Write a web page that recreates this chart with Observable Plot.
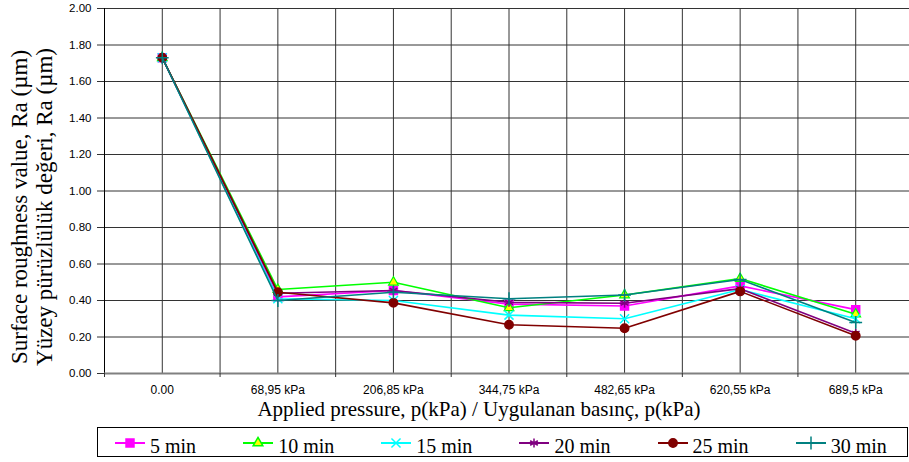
<!DOCTYPE html>
<html><head><meta charset="utf-8">
<script src="https://cdn.jsdelivr.net/npm/d3@7"></script>
<script src="https://cdn.jsdelivr.net/npm/@observablehq/plot@0.6"></script>
<style>
html,body{margin:0;padding:0;background:#fff;overflow:hidden;width:909px;height:462px}
#chart{position:absolute;left:0;top:0;width:909px;height:424px;overflow:hidden}
#legend{position:absolute;left:97px;top:427px;width:811px;height:30px;box-sizing:border-box;border:1px solid #000;display:flex;padding-left:17px;gap:47px;background:#fff}
.item{display:flex;align-items:flex-start;height:28px}
.item svg{margin-top:7px;display:block}
.item span{font-family:"Liberation Serif","Times New Roman",serif;font-size:20px;line-height:28px;position:relative;top:4px;margin-left:5px;color:#000;white-space:nowrap}
</style></head>
<body>
<div id="chart"></div>
<div id="legend"></div>
<script>
// ---- data ----
const pressureLabels = ["0.00", "68,95 kPa", "206,85 kPa", "344,75 kPa", "482,65 kPa", "620,55 kPa", "689,5 kPa"];
const seriesNames = ["5 min", "10 min", "15 min", "20 min", "25 min", "30 min"];
const ra5min  = [1.73, 0.42, 0.455, 0.38, 0.37, 0.48, 0.35];
const ra10min = [1.73, 0.46, 0.50, 0.36, 0.43, 0.52, 0.325];
const ra15min = [1.73, 0.41, 0.40, 0.32, 0.30, 0.46, 0.30];
const ra20min = [1.73, 0.44, 0.455, 0.39, 0.385, 0.465, 0.22];
const ra25min = [1.73, 0.445, 0.387, 0.267, 0.248, 0.45, 0.207];
const ra30min = [1.73, 0.40, 0.445, 0.41, 0.43, 0.515, 0.28];
const yTickValues = [0, 0.2, 0.4, 0.6, 0.8, 1.0, 1.2, 1.4, 1.6, 1.8, 2.0];
const xTitle = "Applied pressure, p(kPa) / Uygulanan basınç, p(kPa)";
const yTitle1 = "Surface roughness value, Ra (µm)";
const yTitle2 = "Yüzey pürüzlülük değeri, Ra (µm)";

// ---- styles ----
const seriesValues = [ra5min, ra10min, ra15min, ra20min, ra25min, ra30min];
const seriesColors = ["#FF00FF", "#00FF00", "#00FFFF", "#800080", "#800000", "#008080"];
const seriesSymbols = ["square", "triangle", "times", "asterisk", "circle", "plus"];
const seriesFills = ["#FF00FF", "#FFFF00", "none", "none", "#800000", "none"];
const seriesR = [4.5, 3.6, 4.2, 4.2, 4.2, 4.2];

const categoryIdx = pressureLabels.map((_, i) => i);
const edges = d3.range(-0.5, pressureLabels.length, 1);
const gridXPos = d3.range(-0.5, pressureLabels.length, 0.5);

const marks = [
  Plot.gridY(yTickValues, {stroke: "#333", strokeOpacity: 1, strokeWidth: 1}),
  Plot.gridX(gridXPos, {stroke: "#333", strokeOpacity: 1, strokeWidth: 1}),
  Plot.ruleX([-0.5], {stroke: "#000", strokeWidth: 1}),
  Plot.ruleY([0], {stroke: "#808080", strokeWidth: 2}),
  Plot.axisY(yTickValues, {tickFormat: d3.format(".2f"), tickSize: 7, tickPadding: 6, fontSize: 11.5, stroke: "#333", label: null}),
  Plot.axisX(categoryIdx, {tickFormat: i => pressureLabels[i], tickSize: 0, tickPadding: 12, fontSize: 12, label: null}),
  Plot.axisX(edges, {tickFormat: () => "", tickSize: 4, stroke: "#333", label: null})
];

seriesNames.forEach((name, s) => {
  const rows = seriesValues[s].map((v, i) => ({x: i, y: v, series: name}));
  marks.push(Plot.line(rows, {x: "x", y: "y", stroke: seriesColors[s], strokeWidth: 1.6}));
  marks.push(Plot.dot(rows, {x: "x", y: "y", symbol: seriesSymbols[s], r: seriesR[s],
    fill: seriesFills[s], stroke: seriesColors[s], strokeWidth: s === 1 ? 1.2 : 1.5}));
});

const chart = Plot.plot({
  width: 909,
  height: 424,
  marginTop: 8,
  marginBottom: 51,
  marginLeft: 104,
  marginRight: 0,
  x: {type: "linear", domain: [-0.5, pressureLabels.length - 0.5], range: [104, 913], label: null},
  y: {domain: [0, 2], range: [373, 8], label: null},
  style: {fontFamily: '"Liberation Sans", Arial, sans-serif', background: "#fff", color: "#000"},
  marks
});
document.getElementById("chart").appendChild(chart);

const svg = d3.select(chart);
svg.append("text")
  .attr("x", 479).attr("y", 416)
  .attr("text-anchor", "middle")
  .attr("font-family", '"Liberation Serif","Times New Roman",serif')
  .attr("font-size", 21)
  .attr("fill", "#000")
  .text(xTitle);
[[yTitle1, 27], [yTitle2, 52]].forEach(([t, x]) => {
  svg.append("text")
    .attr("transform", `translate(${x},207) rotate(-90)`)
    .attr("text-anchor", "middle")
    .attr("font-family", '"Liberation Serif","Times New Roman",serif')
    .attr("font-size", 23)
    .attr("fill", "#000")
    .text(t);
});

// ---- legend ----
const symbolMap = {
  square: d3.symbolSquare, triangle: d3.symbolTriangle, times: d3.symbolTimes || d3.symbolCross,
  asterisk: d3.symbolAsterisk || d3.symbolStar, circle: d3.symbolCircle, plus: d3.symbolPlus || d3.symbolCross
};
const legend = d3.select("#legend");
seriesNames.forEach((name, s) => {
  const item = legend.append("div").attr("class", "item");
  const sv = item.append("svg").attr("width", 30).attr("height", 16);
  sv.append("line").attr("x1", 0).attr("x2", 30).attr("y1", 8).attr("y2", 8)
    .attr("stroke", seriesColors[s]).attr("stroke-width", 2);
  sv.append("path")
    .attr("transform", "translate(15,8)")
    .attr("d", d3.symbol().type(symbolMap[seriesSymbols[s]]).size(Math.PI * seriesR[s] * seriesR[s])())
    .attr("fill", seriesFills[s]).attr("stroke", seriesColors[s]).attr("stroke-width", 1.5);
  item.append("span").text(name);
});
</script>
</body></html>
